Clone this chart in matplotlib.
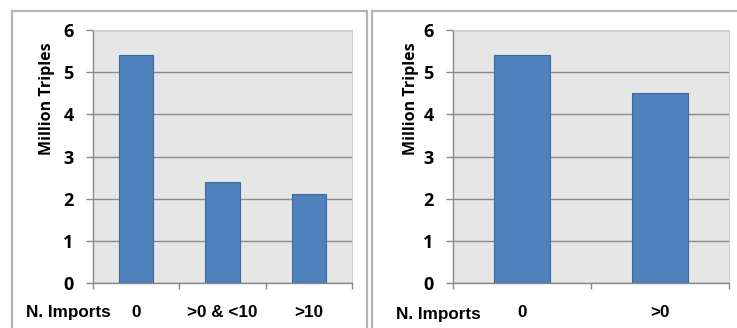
import matplotlib.pyplot as plt
from matplotlib.patches import Rectangle

# data (million triples per import bucket)
cats_left = ['0', '>0 & <10', '>10']
vals_left = [5.4, 2.4, 2.1]
cats_right = ['0', '>0']
vals_right = [5.4, 4.5]
yticks = [0, 1, 2, 3, 4, 5, 6]

W, H = 737, 328
bar_color = '#4f81bd'
bar_edge = '#3d6a9e'
bg = '#e6e6e6'
grid_c = '#8a8a8a'

fig = plt.figure(figsize=(W / 100, H / 100), dpi=100)
fig.patch.set_facecolor('white')


def px_axes(x0, y0, x1, y1):
    # pixel box (top-left origin) -> figure fraction axes
    return fig.add_axes([x0 / W, (H - y1) / H, (x1 - x0) / W, (y1 - y0) / H])


def frame(x0, y0, x1, y1):
    fig.patches.append(Rectangle((x0 / W, (H - y1) / H), (x1 - x0) / W, (y1 - y0) / H,
                                 transform=fig.transFigure, fill=False,
                                 edgecolor='#b4b4b4', lw=1.6, zorder=0))


def draw_panel(ax, cats, vals):
    n = len(cats)
    ax.set_facecolor(bg)
    ax.bar(range(n), vals, width=0.4, color=bar_color, edgecolor=bar_edge,
           linewidth=0.8, zorder=3)
    ax.set_xlim(-0.5, n - 0.5)
    ax.set_ylim(0, 6)
    ax.set_yticks(yticks)
    ax.set_yticklabels([str(t) for t in yticks], fontfamily='Open Sans',
                       fontweight='bold', fontsize=13)
    ax.yaxis.grid(True, color=grid_c, lw=1.0, zorder=1)
    ax.set_axisbelow(True)
    ax.set_xticks([i - 0.5 for i in range(n + 1)], minor=False)
    ax.set_xticklabels([])
    ax.set_xticks(range(n), minor=True)
    ax.set_xticklabels(cats, minor=True, fontfamily='Liberation Sans',
                       fontweight='bold', fontsize=12.3)
    ax.tick_params(axis='x', which='major', length=4, color=grid_c, width=1)
    ax.tick_params(axis='x', which='minor', length=0, pad=16)
    ax.tick_params(axis='y', length=5, color=grid_c, width=1, pad=9)
    for s in ['top', 'right']:
        ax.spines[s].set_color('#d0d0d0')
        ax.spines[s].set_linewidth(0.8)
    for s in ['left', 'bottom']:
        ax.spines[s].set_color(grid_c)
        ax.spines[s].set_linewidth(1.0)


frame(12, 11, 367, 340)
frame(372, 11, 745, 340)

ax1 = px_axes(93, 30, 352, 283)
draw_panel(ax1, cats_left, vals_left)
ax2 = px_axes(453, 30, 729, 283)
draw_panel(ax2, cats_right, vals_right)

ylab = dict(fontfamily='Open Sans', fontweight='bold', fontsize=11.5, rotation=90,
            ha='center', va='center')
fig.text(47 / W, 1 - 99 / H, 'Million Triples', **ylab)
fig.text(411 / W, 1 - 99 / H, 'Million Triples', **ylab)

xl = dict(fontfamily='Liberation Sans', fontweight='bold', fontsize=12.3,
          ha='center', va='center')
fig.text(68 / W, 1 - 312 / H, 'N. Imports', **xl)
fig.text(438 / W, 1 - 315 / H, 'N. Imports', **xl)

fig.savefig('out.png', dpi=100)
